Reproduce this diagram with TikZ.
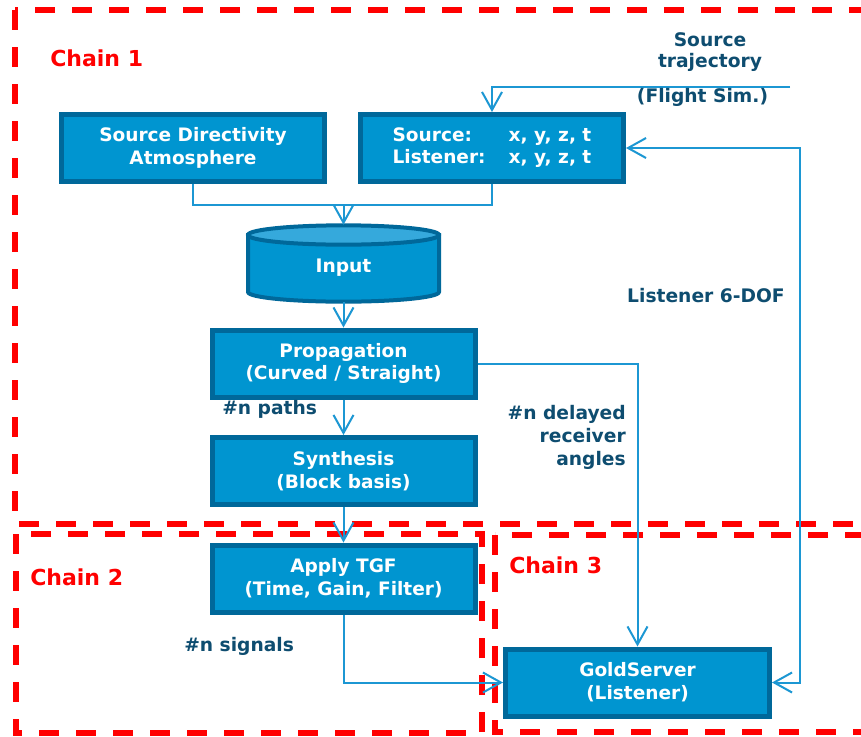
\documentclass[tikz,border=0pt]{standalone}
\usepackage{fontspec}
\setmainfont{DejaVu Sans}
\usetikzlibrary{arrows.meta}

\definecolor{boxfill}{HTML}{0095D0}
\definecolor{boxedge}{HTML}{00689A}
\definecolor{cyltop}{HTML}{35A9DC}
\definecolor{wire}{HTML}{1C97D3}
\definecolor{labtext}{HTML}{0E4D70}
\definecolor{chainred}{HTML}{FF0000}

\newcommand{\pxu}{0.75pt}

\tikzset{
  blockbox/.style={draw=boxedge, fill=boxfill, line width=3.75pt, inner sep=0pt,
    text=white, font=\bfseries\fontsize{13.9}{17}\selectfont, align=center,
    minimum width=263*\pxu, minimum height=67*\pxu},
  vtip/.tip={Straight Barb[length=13.5pt,width=15pt]},
  wireline/.style={draw=wire, line width=1.5pt, line join=miter},
  flow/.style={wireline, -vtip},
  annot/.style={text=labtext, font=\bfseries\fontsize{14}{17}\selectfont, inner sep=0pt},
  chainlabel/.style={text=chainred, font=\bfseries\fontsize{16.5}{20}\selectfont, inner sep=0pt},
  chainframe/.style={draw=chainred, line width=4pt, dash pattern=on 15pt off 12.75pt},
}

\begin{document}
\begin{tikzpicture}[x=0.75pt, y=-0.75pt]
\useasboundingbox (0,0) rectangle (861,736);
\fill[white] (0,0) rectangle (861,736);

% dashed chain frames
\begin{scope}
  \clip (0,0) rectangle (861,736);
  \draw[chainframe] (15,10) rectangle (890,524);
  \draw[chainframe] (16,534) rectangle (482,733);
  \draw[chainframe] (495,535) rectangle (890,732);
\end{scope}

\node[chainlabel, anchor=west] (c1) at (50,58) {Chain 1};
\node[chainlabel, anchor=west] (c2) at (30,577) {Chain 2};
\node[chainlabel, anchor=west] (c3) at (509,565) {Chain 3};

% processing blocks
\node[blockbox] (sd) at (193,148) {Source Directivity\\Atmosphere};
\node[blockbox] (sl) at (492,148)
  {\begin{tabular}{@{}p{87pt}@{}l@{}}Source: & x, y, z, t\\ Listener: & x, y, z, t\end{tabular}};
\node[blockbox] (prop) at (343.5,363.5) {Propagation\\(Curved / Straight)};
\node[blockbox] (syn) at (343.5,471) {Synthesis\\(Block basis)};
\node[blockbox] (tgf) at (343.5,578.5) {Apply TGF\\(Time, Gain, Filter)};
\node[blockbox, minimum width=264*\pxu] (gold) at (637.5,682.5) {GoldServer\\(Listener)};

% input data store drawn as a cylinder
\node[minimum width=195*\pxu, minimum height=77*\pxu, inner sep=0pt] (inp) at (343.5,263.5) {};
\draw[boxedge, fill=boxfill, line width=3pt]
  (248,235) -- (248,292) arc[start angle=180, end angle=360, x radius=71.625pt, y radius=7.25pt]
  -- (439,235) -- cycle;
\draw[boxedge, fill=cyltop, line width=3pt]
  (343.5,235) ellipse[x radius=71.625pt, y radius=7.25pt];
\node[annot, text=white] (inptext) at (343.5,268) {Input};

% connectors
\coordinate (jn) at (343.5,205);
\draw[wireline] (sd.south) |- (jn) -| (sl.south);
\draw[flow] (jn) -- (inp.north);

\coordinate (trajin) at (790,87);
\draw[flow] (trajin) -| (sl.north);

\coordinate (looptop) at (800,148);
\coordinate (loopbot) at (800,682.5);
\draw[wireline, vtip-vtip] (sl.east) -- (looptop) -- (loopbot) -- (gold.east);

\draw[flow] (inp.south) -- (prop.north);
\draw[flow] (prop.south) -- (syn.north);
\draw[flow] (syn.south) -- (tgf.north);
\draw[flow] (prop.east) -| (gold.north);
\draw[flow] (tgf.south) |- (gold.west);

% annotations
\node[annot, align=center, font=\bfseries\fontsize{14}{15.75}\selectfont] (traj) at (710,52.5) {Source\\trajectory};
\node[annot] (fsim) at (702.5,97) {(Flight Sim.)};
\node[annot, anchor=east] (ldof) at (785,296) {Listener 6-DOF};
\node[annot, anchor=west] (npaths) at (222,409) {\#n paths};
\node[annot, anchor=east, align=right] (ndel) at (626,437.5) {\#n delayed\\receiver\\angles};
\node[annot, anchor=west] (nsig) at (184,646) {\#n signals};
\end{tikzpicture}
\end{document}
